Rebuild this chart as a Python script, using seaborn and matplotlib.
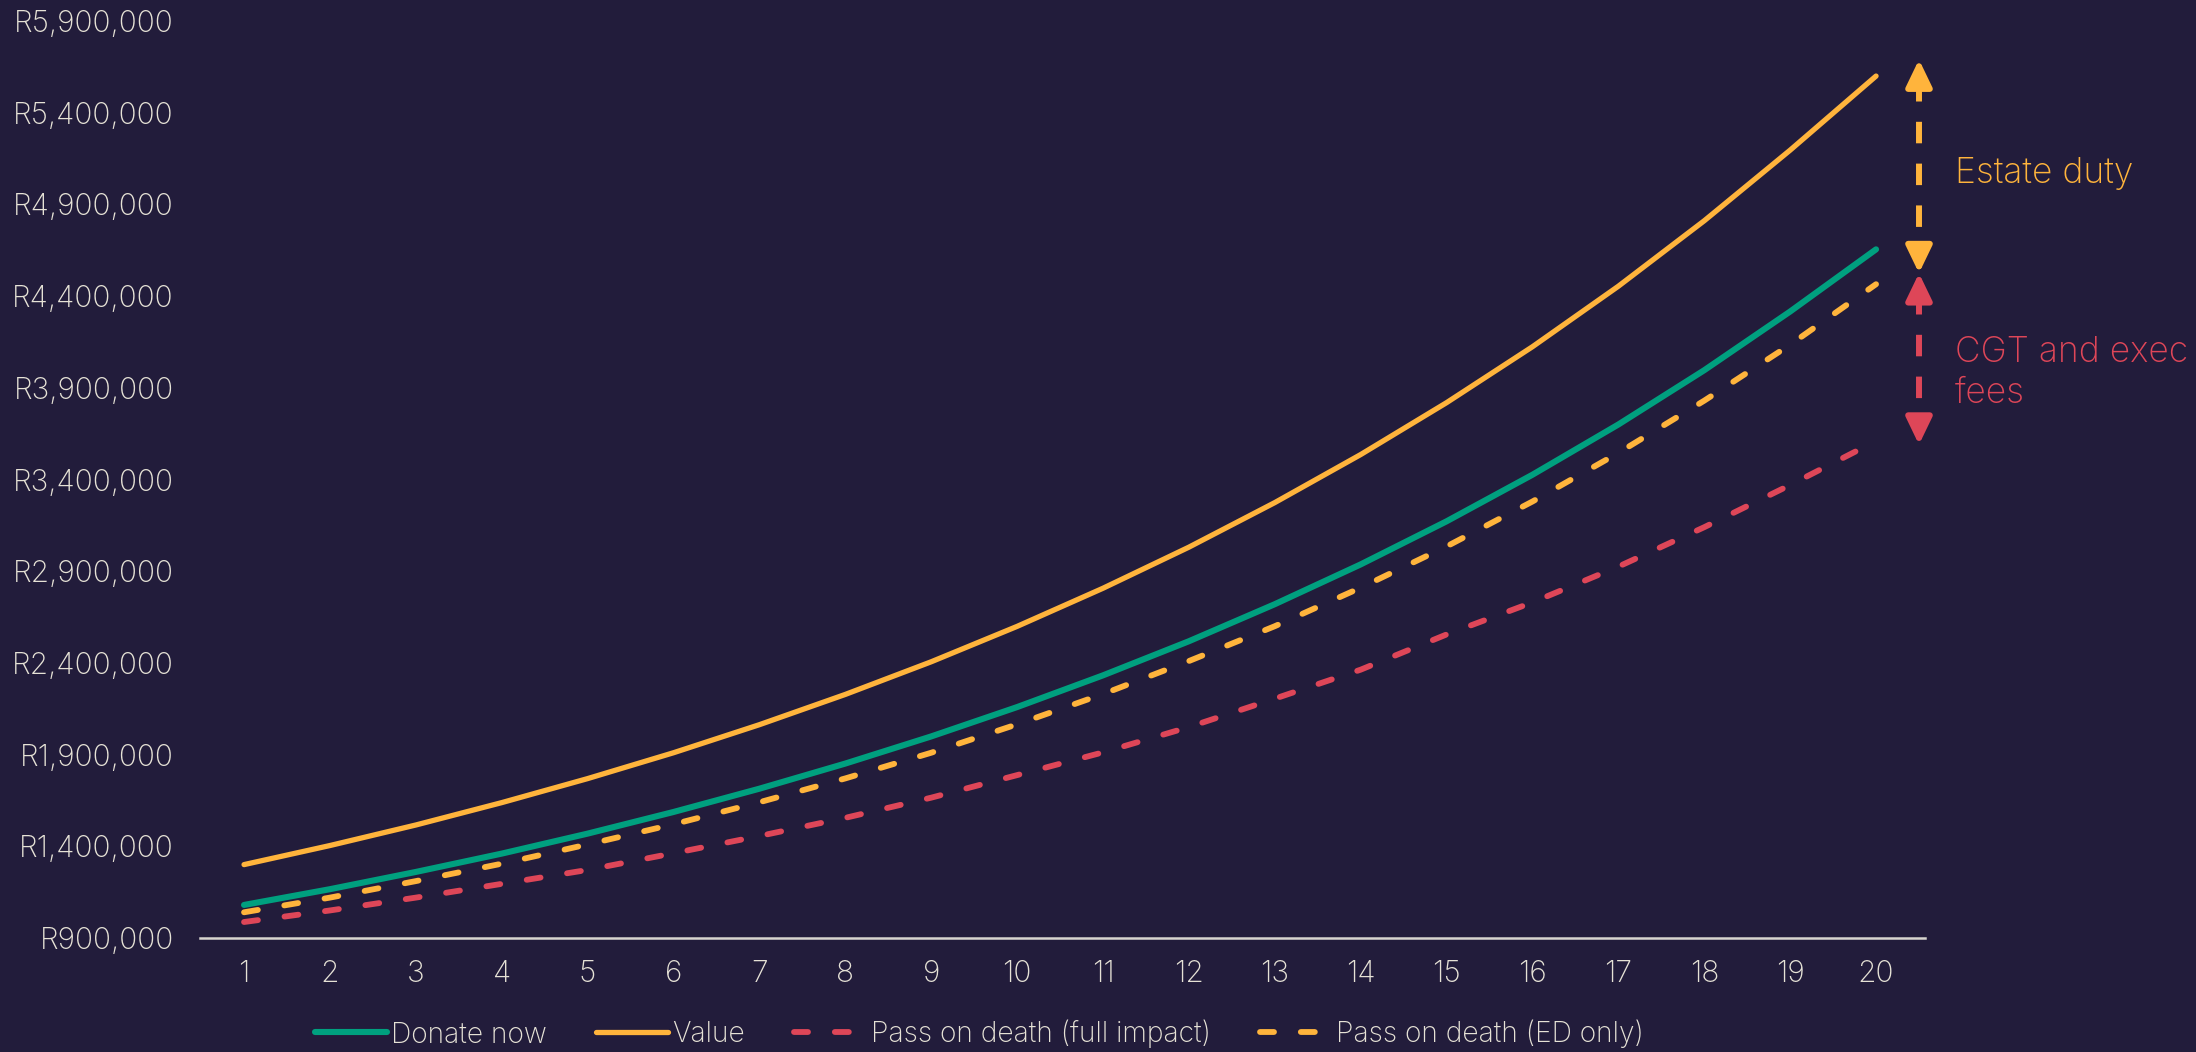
import matplotlib
matplotlib.use("Agg")
import matplotlib.pyplot as plt
import seaborn as sns
import pandas as pd

# Projected values per year (Rand)
years = list(range(1, 21))
donate_now = [1080000, 1166000, 1260000, 1360000, 1469000, 1587000, 1714000, 1851000,
              1999000, 2159000, 2332000, 2518000, 2720000, 2937000, 3172000, 3426000,
              3700000, 3996000, 4316000, 4655000]
value = [1300000, 1404000, 1516000, 1638000, 1769000, 1910000, 2063000, 2228000,
         2406000, 2599000, 2807000, 3031000, 3274000, 3536000, 3819000, 4124000,
         4454000, 4811000, 5196000, 5600000]
pass_full = [987000, 1050000, 1120000, 1195000, 1271000, 1362000, 1456000, 1555000,
             1665000, 1788000, 1912000, 2050000, 2205000, 2363000, 2555000, 2730000,
             2925000, 3140000, 3370000, 3610000]
pass_ed = [1040000, 1120000, 1210000, 1305000, 1410000, 1520000, 1640000, 1770000,
           1910000, 2065000, 2230000, 2410000, 2600000, 2810000, 3035000, 3280000,
           3545000, 3830000, 4135000, 4465000]

series_names = ["Donate now", "Value", "Pass on death (full impact)", "Pass on death (ED only)"]
y_ticks = list(range(900000, 5900001, 500000))
annotation_labels = ["Estate duty", "CGT and exec\nfees"]

BG = "#221C3B"
TEXT = "#E6E2D6"
TEAL = "#00A07F"
YELLOW = "#FFB43C"
RED = "#DE4658"
AXIS = "#D8D5CF"

sns.set_theme(style="white")
plt.rcParams["font.family"] = ["Inter", "DejaVu Sans"]
plt.rcParams["font.weight"] = "light"

df = pd.DataFrame({
    "year": years * 4,
    "amount": donate_now + value + pass_full + pass_ed,
    "series": [s for s in series_names for _ in years],
})

fig = plt.figure(figsize=(21.96, 10.52), dpi=100, facecolor=BG)
ax = fig.add_axes([0.0911, 0.1084, 0.7855, 0.8716])
ax.set_facecolor(BG)

styles = {
    "Donate now": dict(color=TEAL, lw=4.4, linestyle="-"),
    "Value": dict(color=YELLOW, lw=3.8, linestyle="-"),
    "Pass on death (full impact)": dict(color=RED, lw=4.2, linestyle=(0, (2.4, 4.6))),
    "Pass on death (ED only)": dict(color=YELLOW, lw=4.2, linestyle=(0, (2.4, 4.6))),
}
for name in series_names:
    sub = df[df["series"] == name]
    sns.lineplot(data=sub, x="year", y="amount", ax=ax, label=name,
                 solid_capstyle="round", dash_capstyle="round", **styles[name])

ax.set_xlim(0.488, 20.57)
ax.set_ylim(900000, 5900000)
ax.set_xticks(years)
ax.set_xticklabels([str(y) for y in years])
ax.set_yticks(y_ticks)
ax.set_yticklabels([f"R{v:,}" for v in y_ticks])
ax.set_xlabel("")
ax.set_ylabel("")
ax.tick_params(axis="both", length=0, labelsize=21.5, colors=TEXT)
ax.tick_params(axis="y", pad=19)
ax.tick_params(axis="x", pad=16)
for side in ["top", "right", "left"]:
    ax.spines[side].set_visible(False)
ax.spines["bottom"].set_color(AXIS)
ax.spines["bottom"].set_linewidth(1.8)
ax.grid(False)

# Double-headed dashed arrows showing the estate duty and CGT gaps at year 20
ax_x = 20.5
top = value[-1] + 90000
mid = pass_ed[-1] + 60000
bottom = pass_full[-1] - 20000
head = 100000


def gap_arrow(y_top, y_bot, color):
    ax.plot([ax_x, ax_x], [y_top - head * 1.1, y_bot + head * 1.1], color=color, lw=4.3,
            linestyle=(0, (3.6, 3.4)), solid_capstyle="butt", dash_capstyle="butt",
            clip_on=False)
    for tip, base in [(y_top, y_top - head * 1.05), (y_bot, y_bot + head * 1.05)]:
        ax.annotate("", xy=(ax_x, tip), xytext=(ax_x, base),
                    arrowprops=dict(arrowstyle="-|>,head_length=1.35,head_width=0.65",
                                    color=color, lw=4.3, shrinkA=0, shrinkB=0),
                    annotation_clip=False)


gap_arrow(top, mid, YELLOW)
gap_arrow(mid, bottom, RED)

ax.text(20.92, (top + mid) / 2 - 38000, annotation_labels[0], color=YELLOW,
        fontsize=25.5, va="center", ha="left", clip_on=False)
ax.text(20.92, (mid + bottom) / 2 - 75000, annotation_labels[1], color=RED,
        fontsize=25.5, va="center", ha="left", linespacing=1.3, clip_on=False)

handles, labels = ax.get_legend_handles_labels()
ax.get_legend().remove()
leg = fig.legend(handles, labels, loc="center", bbox_to_anchor=(0.446, 0.017), ncol=4,
                 frameon=False, fontsize=20.3, handlelength=2.55, handletextpad=0.15,
                 columnspacing=1.75, borderaxespad=0)
for t in leg.get_texts():
    t.set_color(TEXT)

fig.savefig("out.png", dpi=100, facecolor=BG)
